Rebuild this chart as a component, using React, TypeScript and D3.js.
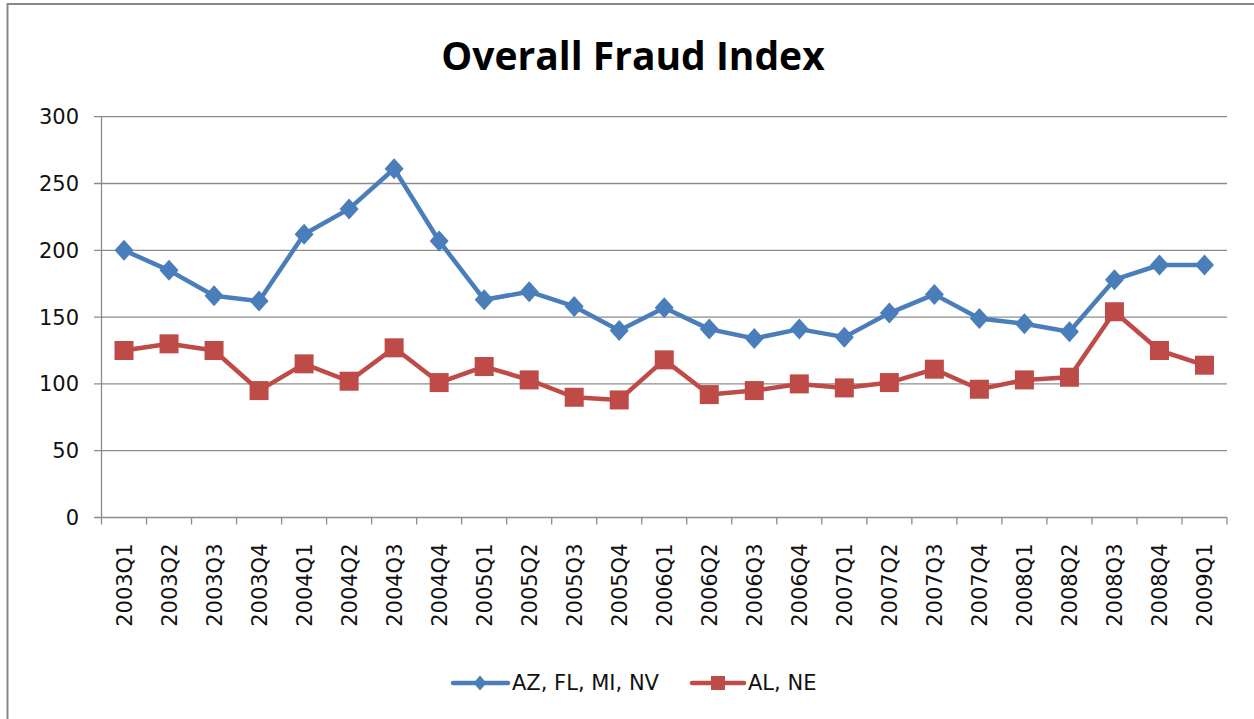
import React from 'react';
import * as d3 from 'd3';

const categories = [
  '2003Q1', '2003Q2', '2003Q3', '2003Q4',
  '2004Q1', '2004Q2', '2004Q3', '2004Q4',
  '2005Q1', '2005Q2', '2005Q3', '2005Q4',
  '2006Q1', '2006Q2', '2006Q3', '2006Q4',
  '2007Q1', '2007Q2', '2007Q3', '2007Q4',
  '2008Q1', '2008Q2', '2008Q3', '2008Q4',
  '2009Q1',
];

const azFlMiNv = [
  200, 185, 166, 162, 212, 231, 261, 207, 163, 169, 158, 140, 157,
  141, 134, 141, 135, 153, 167, 149, 145, 139, 178, 189, 189,
];

const alNe = [
  125, 130, 125, 95, 115, 102, 127, 101, 113, 103, 90, 88, 118,
  92, 95, 100, 97, 101, 111, 96, 103, 105, 154, 125, 114,
];

const yTicks = [0, 50, 100, 150, 200, 250, 300];

const BLUE = '#4a7ebb';
const RED = '#be4b48';
const GRID = '#8c8c8c';

function diamond(w: number, h: number) {
  return `M0,${-h / 2}L${w / 2},0L0,${h / 2}L${-w / 2},0Z`;
}

export default function App() {
  const width = 1254;
  const height = 719;
  const left = 101.5;
  const right = 1227;
  const top = 116.7;
  const bottom = 517.5;

  const x = d3.scaleBand<string>().domain(categories).range([left, right]);
  const y = d3.scaleLinear().domain([0, 300]).range([bottom, top]);
  const cx = (c: string) => (x(c) as number) + x.bandwidth() / 2;

  const line = d3
    .line<number>()
    .x((_, i) => cx(categories[i]))
    .y((d) => y(d));

  const font = '"DejaVu Sans", sans-serif';

  return (
    <svg
      width={width}
      height={height}
      style={{ position: 'absolute', left: 0, top: 0, background: '#fff' }}
    >
      <rect x={7.5} y={4} width={1300} height={800} fill="#fff" stroke="#888" strokeWidth={2} />

      <text
        x={633}
        y={70}
        textAnchor="middle"
        fontFamily='"Open Sans", sans-serif'
        fontWeight={700}
        fontSize={39}
        fill="#000"
      >
        Overall Fraud Index
      </text>

      {/* gridlines and y axis */}
      {yTicks.map((t) => (
        <g key={t}>
          <line x1={94} x2={right} y1={y(t)} y2={y(t)} stroke={GRID} strokeWidth={1.3} />
          <text
            x={79}
            y={y(t)}
            dy="0.36em"
            textAnchor="end"
            fontFamily={font}
            fontSize={21}
            fill="#111"
          >
            {t}
          </text>
        </g>
      ))}
      <line x1={left} x2={left} y1={top} y2={bottom + 7} stroke={GRID} strokeWidth={1.3} />

      {/* x ticks */}
      {categories.map((c) => (
        <line
          key={c}
          x1={(x(c) as number) + x.bandwidth()}
          x2={(x(c) as number) + x.bandwidth()}
          y1={bottom}
          y2={bottom + 7}
          stroke={GRID}
          strokeWidth={1.3}
        />
      ))}
      {categories.map((c) => (
        <text
          key={c}
          transform={`translate(${cx(c)},${bottom + 26}) rotate(-90)`}
          textAnchor="end"
          dy="0.36em"
          fontFamily={font}
          fontSize={21}
          fill="#111"
        >
          {c}
        </text>
      ))}

      {/* series */}
      <path d={line(azFlMiNv) || ''} fill="none" stroke={BLUE} strokeWidth={4.5} strokeLinejoin="round" />
      {azFlMiNv.map((v, i) => (
        <path
          key={i}
          d={diamond(19, 21)}
          transform={`translate(${cx(categories[i])},${y(v)})`}
          fill={BLUE}
        />
      ))}
      <path d={line(alNe) || ''} fill="none" stroke={RED} strokeWidth={4.5} strokeLinejoin="round" />
      {alNe.map((v, i) => (
        <rect
          key={i}
          x={cx(categories[i]) - 9.5}
          y={y(v) - 9.5}
          width={19}
          height={19}
          fill={RED}
        />
      ))}

      {/* legend */}
      <line x1={453} x2={508} y1={683} y2={683} stroke={BLUE} strokeWidth={4.5} strokeLinecap="round" />
      <path d={diamond(13, 15)} transform="translate(480,683)" fill={BLUE} />
      <text x={512} y={690} fontFamily={font} fontSize={21} fill="#111">
        AZ, FL, MI, NV
      </text>
      <line x1={692} x2={744} y1={683} y2={683} stroke={RED} strokeWidth={4.5} strokeLinecap="round" />
      <rect x={711} y={676} width={14} height={14} fill={RED} />
      <text x={748} y={690} fontFamily={font} fontSize={21} fill="#111">
        AL, NE
      </text>
    </svg>
  );
}
